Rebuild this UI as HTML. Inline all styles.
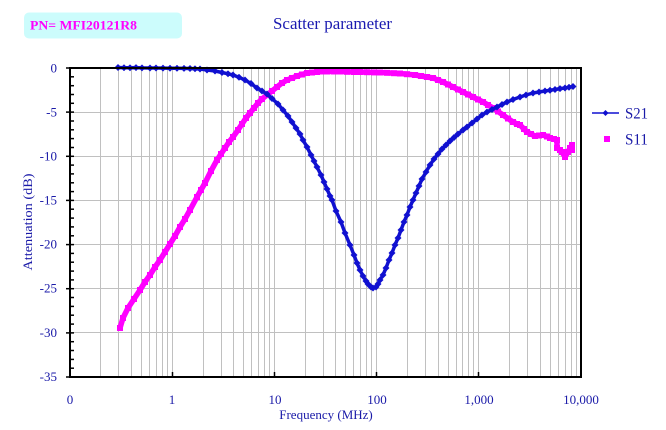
<!DOCTYPE html>
<html><head><meta charset="utf-8"><style>
html,body{margin:0;padding:0;background:#fff;}
svg{display:block;}
text{font-family:"Liberation Serif",serif;}
</style></head><body>
<svg width="666" height="430" viewBox="0 0 666 430" xmlns="http://www.w3.org/2000/svg">
<defs>
<marker id="dia" markerWidth="7" markerHeight="7" refX="3.5" refY="3.5" markerUnits="userSpaceOnUse">
<path d="M3.5,0 L7,3.5 L3.5,7 L0,3.5 Z" fill="#1010d0"/>
</marker>
<marker id="sq" markerWidth="7" markerHeight="7" refX="3.5" refY="3.5" markerUnits="userSpaceOnUse">
<rect x="0.5" y="0.5" width="6" height="6" fill="#ff00ff"/>
</marker>
</defs>
<rect width="666" height="430" fill="#fff"/>
<rect x="24" y="12.5" width="158" height="26" rx="5" ry="5" fill="#ccfcfc"/>
<text x="30" y="29.5" font-size="13" font-weight="bold" fill="#ff00ff" textLength="107" lengthAdjust="spacingAndGlyphs">PN= MFI20121R8</text>
<text x="273" y="29" font-size="17" fill="#1a1ab0" textLength="119" lengthAdjust="spacingAndGlyphs">Scatter parameter</text>

<g stroke="#c0c0c0" stroke-width="1">
<line x1="70" y1="112.5" x2="581" y2="112.5"/>
<line x1="70" y1="156.5" x2="581" y2="156.5"/>
<line x1="70" y1="200.5" x2="581" y2="200.5"/>
<line x1="70" y1="244.5" x2="581" y2="244.5"/>
<line x1="70" y1="288.5" x2="581" y2="288.5"/>
<line x1="70" y1="332.5" x2="581" y2="332.5"/>
<line x1="100.5" y1="68" x2="100.5" y2="377"/><line x1="118.5" y1="68" x2="118.5" y2="377"/><line x1="131.5" y1="68" x2="131.5" y2="377"/><line x1="141.5" y1="68" x2="141.5" y2="377"/><line x1="149.5" y1="68" x2="149.5" y2="377"/><line x1="156.5" y1="68" x2="156.5" y2="377"/><line x1="162.5" y1="68" x2="162.5" y2="377"/><line x1="167.5" y1="68" x2="167.5" y2="377"/><line x1="172.5" y1="68" x2="172.5" y2="377"/>
<line x1="203.5" y1="68" x2="203.5" y2="377"/><line x1="221.5" y1="68" x2="221.5" y2="377"/><line x1="233.5" y1="68" x2="233.5" y2="377"/><line x1="243.5" y1="68" x2="243.5" y2="377"/><line x1="251.5" y1="68" x2="251.5" y2="377"/><line x1="258.5" y1="68" x2="258.5" y2="377"/><line x1="264.5" y1="68" x2="264.5" y2="377"/><line x1="269.5" y1="68" x2="269.5" y2="377"/><line x1="274.5" y1="68" x2="274.5" y2="377"/>
<line x1="305.5" y1="68" x2="305.5" y2="377"/><line x1="323.5" y1="68" x2="323.5" y2="377"/><line x1="335.5" y1="68" x2="335.5" y2="377"/><line x1="345.5" y1="68" x2="345.5" y2="377"/><line x1="353.5" y1="68" x2="353.5" y2="377"/><line x1="360.5" y1="68" x2="360.5" y2="377"/><line x1="366.5" y1="68" x2="366.5" y2="377"/><line x1="371.5" y1="68" x2="371.5" y2="377"/><line x1="376.5" y1="68" x2="376.5" y2="377"/>
<line x1="407.5" y1="68" x2="407.5" y2="377"/><line x1="425.5" y1="68" x2="425.5" y2="377"/><line x1="438.5" y1="68" x2="438.5" y2="377"/><line x1="448.5" y1="68" x2="448.5" y2="377"/><line x1="456.5" y1="68" x2="456.5" y2="377"/><line x1="462.5" y1="68" x2="462.5" y2="377"/><line x1="468.5" y1="68" x2="468.5" y2="377"/><line x1="473.5" y1="68" x2="473.5" y2="377"/><line x1="478.5" y1="68" x2="478.5" y2="377"/>
<line x1="509.5" y1="68" x2="509.5" y2="377"/><line x1="527.5" y1="68" x2="527.5" y2="377"/><line x1="540.5" y1="68" x2="540.5" y2="377"/><line x1="550.5" y1="68" x2="550.5" y2="377"/><line x1="558.5" y1="68" x2="558.5" y2="377"/><line x1="565.5" y1="68" x2="565.5" y2="377"/><line x1="571.5" y1="68" x2="571.5" y2="377"/><line x1="576.5" y1="68" x2="576.5" y2="377"/>
</g>

<polyline fill="none" stroke="#ff00ff" stroke-width="5.5" stroke-linejoin="round" marker-start="url(#sq)" marker-mid="url(#sq)" marker-end="url(#sq)"
points="120,328 123,318 128,308 134,299 140,290 145,282 150,275 155,267 160,260 165,252 170,244 175,236 180,227 185,219 190,210 197,197 201,190 205,183 211,171 217,160 221,154 225,148 229,142 233,137 238,130 242,124 246,118 250,113 254,108 258,103 262,99 267,95 272,91 277,87 282,83 287,80 292,78 297,76 302,74.5 307,73 312,72.5 317,72 322,71.5 327,71.5 334,71.5 340,71.5 347,71.8 354,72 360,72 367,72.2 374,72.4 380,72.5 387,72.8 394,73.2 400,73.5 407,74.2 415,75 421,76 427,77 433,78 438,80 443,82 448,84.5 453,87 458,89.5 463,92 468,94.5 473,97 478,99.5 483,102 488,105 493,108 498,111.5 503,115 508,118.5 513,122 517,124 520,125 524,129 527,132 531,134 535,136 539,135.5 543,135 547,136.5 550,138 554,139 557,140 557,148 560,150 562,152 565,157 568,152 570,148 572,145 572,150"/>

<polyline fill="none" stroke="#1010d0" stroke-width="3.5" stroke-linejoin="round" marker-start="url(#dia)" marker-mid="url(#dia)" marker-end="url(#dia)"
points="118,67.5 124,67.7 130,67.8 136,67.6 142,67.9 150,68 156,68 163,68.1 170,68.2 177,68.3 184,68.4 190,68.5 195,68.8 200,69 207,70 215,71 222,72.5 228,73.8 233,75 239,77.3 245,80 251,83.5 257,88 262,91 267,94 272,98.5 278,104 283,110 288,116 292,122 296,128 300,134 303,140 307,147 311,155 314,161 317,167 321,175 324,182 327,189 330,196 332,200 336,211 341,222 345,233 350,245 354,255 357,263 360,270 363,276 366,281 368,284 371,287 373,288 376,287 378,284 380,280 383,275 386,268 389,260 392,253 395,245 398,238 401,230 404,222 407,215 410,207 413,200 416,193 419,186 422,179 426,172 430,165 434,159 438,154 442,149 446,145 450,141 454,137.5 458,134 463,130 467,127 472,123 477,119 482,115 487,112 492,109.5 497,107 502,104.5 507,102 513,99.5 520,97 526,95 533,93 539,92 545,91 550,90.3 555,89.5 560,88.6 565,88 569,87.3 573,86.5"/>

<g stroke="#000" fill="none">
<line x1="70" y1="68" x2="582" y2="68" stroke-width="2"/>
<line x1="581" y1="67" x2="581" y2="378" stroke-width="2"/>
<line x1="70" y1="67" x2="70" y2="378" stroke-width="2"/>
<line x1="69" y1="377" x2="582" y2="377" stroke-width="2"/>
</g>
<g stroke="#000" stroke-width="1.5">
<line x1="66" y1="68" x2="74" y2="68"/><line x1="66" y1="112.1" x2="74" y2="112.1"/><line x1="66" y1="156.3" x2="74" y2="156.3"/><line x1="66" y1="200.4" x2="74" y2="200.4"/><line x1="66" y1="244.6" x2="74" y2="244.6"/><line x1="66" y1="288.7" x2="74" y2="288.7"/><line x1="66" y1="332.9" x2="74" y2="332.9"/><line x1="66" y1="377" x2="74" y2="377"/>
<line x1="70" y1="76.8" x2="74" y2="76.8"/><line x1="70" y1="85.7" x2="74" y2="85.7"/><line x1="70" y1="94.5" x2="74" y2="94.5"/><line x1="70" y1="103.3" x2="74" y2="103.3"/>
<line x1="70" y1="121" x2="74" y2="121"/><line x1="70" y1="129.8" x2="74" y2="129.8"/><line x1="70" y1="138.6" x2="74" y2="138.6"/><line x1="70" y1="147.5" x2="74" y2="147.5"/>
<line x1="70" y1="165.1" x2="74" y2="165.1"/><line x1="70" y1="173.9" x2="74" y2="173.9"/><line x1="70" y1="182.8" x2="74" y2="182.8"/><line x1="70" y1="191.6" x2="74" y2="191.6"/>
<line x1="70" y1="209.2" x2="74" y2="209.2"/><line x1="70" y1="218.1" x2="74" y2="218.1"/><line x1="70" y1="226.9" x2="74" y2="226.9"/><line x1="70" y1="235.8" x2="74" y2="235.8"/>
<line x1="70" y1="253.4" x2="74" y2="253.4"/><line x1="70" y1="262.2" x2="74" y2="262.2"/><line x1="70" y1="271.1" x2="74" y2="271.1"/><line x1="70" y1="279.9" x2="74" y2="279.9"/>
<line x1="70" y1="297.5" x2="74" y2="297.5"/><line x1="70" y1="306.4" x2="74" y2="306.4"/><line x1="70" y1="315.2" x2="74" y2="315.2"/><line x1="70" y1="324.1" x2="74" y2="324.1"/>
<line x1="70" y1="341.7" x2="74" y2="341.7"/><line x1="70" y1="350.5" x2="74" y2="350.5"/><line x1="70" y1="359.4" x2="74" y2="359.4"/><line x1="70" y1="368.2" x2="74" y2="368.2"/>
<line x1="172.5" y1="372" x2="172.5" y2="377"/><line x1="274.5" y1="372" x2="274.5" y2="377"/><line x1="376.5" y1="372" x2="376.5" y2="377"/><line x1="478.5" y1="372" x2="478.5" y2="377"/>
</g>

<g font-size="13" fill="#1a1aa8" text-anchor="end">
<text x="57" y="72.5">0</text>
<text x="57" y="116.5">-5</text>
<text x="57" y="160.5">-10</text>
<text x="57" y="204.5">-15</text>
<text x="57" y="248.5">-20</text>
<text x="57" y="292.5">-25</text>
<text x="57" y="337">-30</text>
<text x="57" y="381">-35</text>
</g>
<text transform="translate(32,222) rotate(-90)" font-size="13" fill="#1a1aa8" text-anchor="middle" textLength="97" lengthAdjust="spacingAndGlyphs">Attenuation (dB)</text>

<g font-size="13" fill="#1a1aa8" text-anchor="middle">
<text x="70" y="404">0</text>
<text x="172" y="404">1</text>
<text x="275" y="404">10</text>
<text x="377" y="404">100</text>
<text x="479" y="404">1,000</text>
<text x="581" y="404">10,000</text>
</g>
<text x="326" y="419" font-size="13" fill="#1a1aa8" text-anchor="middle">Frequency (MHz)</text>

<line x1="592" y1="113" x2="619" y2="113" stroke="#1010d0" stroke-width="1.5"/>
<path d="M605.5,110 L608.5,113 L605.5,116 L602.5,113 Z" fill="#1010d0"/>
<text x="625" y="118.5" font-size="16" fill="#1a1aa8" textLength="23" lengthAdjust="spacingAndGlyphs">S21</text>
<rect x="604" y="136" width="6" height="6" fill="#ff00ff"/>
<text x="625" y="144.5" font-size="16" fill="#1a1aa8" textLength="23" lengthAdjust="spacingAndGlyphs">S11</text>
</svg>
</body></html>
